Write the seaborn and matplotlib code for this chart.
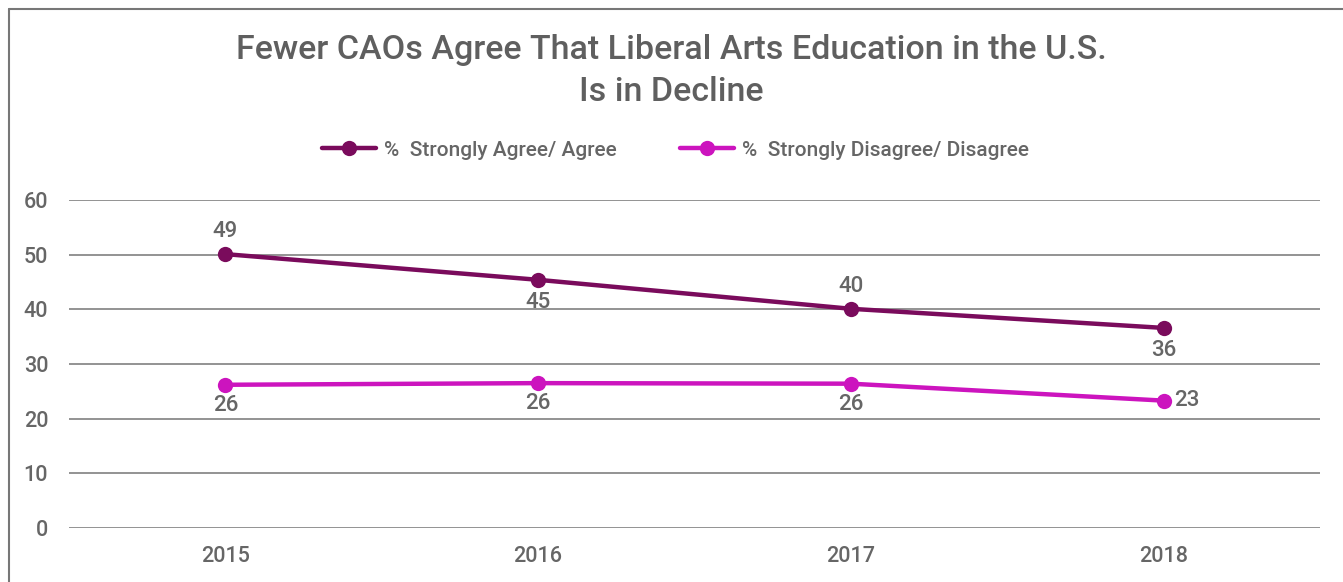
import matplotlib
matplotlib.use("Agg")
import matplotlib.pyplot as plt
from matplotlib.lines import Line2D
import seaborn as sns
import pandas as pd

years = ["2015", "2016", "2017", "2018"]
agree = [50.1, 45.4, 40.1, 36.6]
disagree = [26.2, 26.5, 26.4, 23.3]
agree_labels = ["49", "45", "40", "36"]
disagree_labels = ["26", "26", "26", "23"]
series_names = ["%  Strongly Agree/ Agree", "%  Strongly Disagree/ Disagree"]
title = "Fewer CAOs Agree That Liberal Arts Education in the U.S.\nIs in Decline"

c_agree = "#7A0B5C"
c_dis = "#CC14BE"
gray = "#666666"

df = pd.DataFrame({
    "year": years * 2,
    "value": agree + disagree,
    "series": [series_names[0]] * 4 + [series_names[1]] * 4,
})

sns.set_theme(style="white")
plt.rcParams["font.family"] = ["Roboto", "DejaVu Sans"]

fig = plt.figure(figsize=(13.43, 5.82), dpi=100)
ax = fig.add_axes([69 / 1343, 54 / 582, (1320 - 69) / 1343, (528 - 200) / 582])

sns.lineplot(data=df, x="year", y="value", hue="series",
             palette=[c_agree, c_dis], marker="o", markersize=11,
             markeredgewidth=0, linewidth=3.2, ax=ax, legend=False, sort=False)

ax.set_xlim(-0.5, 3.5)
ax.set_ylim(0, 60)
ax.set_yticks(range(0, 61, 10))
ax.yaxis.grid(True, color="#8a8a8a", linewidth=1.3)
ax.set_axisbelow(True)
for s in ax.spines.values():
    s.set_visible(False)
ax.set_xlabel("")
ax.set_ylabel("")
ax.tick_params(axis="both", length=0, labelsize=15.5, labelcolor=gray)
for t in ax.get_xticklabels() + ax.get_yticklabels():
    t.set_fontweight("medium")
ax.tick_params(axis="y", pad=15)
ax.tick_params(axis="x", pad=13)

# data labels
lab_fs = 16
agree_off = [(0, 16), (0, -16), (0, 16), (0, -16)]
for i, (v, lab) in enumerate(zip(agree, agree_labels)):
    dx, dy = agree_off[i]
    ax.annotate(lab, (i, v), xytext=(dx, dy), textcoords="offset points",
                ha="center", va="center", fontsize=lab_fs, color=gray,
                fontweight="medium")
dis_off = [(0, -15), (0, -15), (0, -15), (17, 0)]
for i, (v, lab) in enumerate(zip(disagree, disagree_labels)):
    dx, dy = dis_off[i]
    ax.annotate(lab, (i, v), xytext=(dx, dy), textcoords="offset points",
                ha="center", va="center", fontsize=lab_fs, color=gray,
                fontweight="medium")

fig.text(0.5, 1 - 71 / 582, title, ha="center", va="center", fontsize=24.5,
         color="#5f5f5f", linespacing=1.38, fontweight="medium")

handles = [Line2D([], [], color=c, marker="o", markersize=11, markeredgewidth=0,
                  linewidth=3.2) for c in (c_agree, c_dis)]
fig.legend(handles, series_names, loc="center", bbox_to_anchor=(0.503, 1 - 150 / 582),
           ncol=2, frameon=False, fontsize=15, labelcolor=gray,
           prop={"weight": "medium", "size": 15},
           handlelength=2.6, handletextpad=0.4, columnspacing=3.0)

# frame lines (left and top)
fig.add_artist(Line2D([8.5 / 1343, 8.5 / 1343], [0, 1 - 9 / 582], color="#777777",
                      linewidth=1.5, transform=fig.transFigure))
fig.add_artist(Line2D([8.5 / 1343, 1], [1 - 9 / 582, 1 - 9 / 582], color="#777777",
                      linewidth=1.5, transform=fig.transFigure))

fig.savefig("out.png", dpi=100, facecolor="white")
